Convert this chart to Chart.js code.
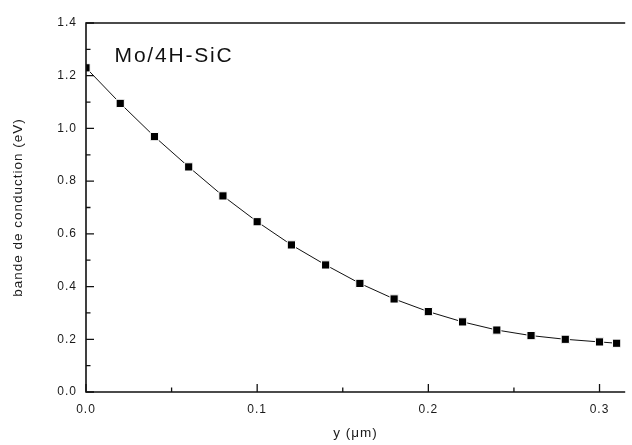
<!DOCTYPE html>
<html>
<head>
<meta charset="utf-8">
<script src="https://cdn.jsdelivr.net/npm/chart.js@4"></script>
<style>
    html, body { margin: 0; padding: 0; background: #fff; }
    #wrap { width: 632px; height: 445px; position: relative; }
</style>
</head>
<body>
<div id="wrap"><canvas id="cb-chart"></canvas></div>
<script>
// position along the contact (um) and conduction band energy (eV)
const yPos = [0, 0.02, 0.04, 0.06, 0.08, 0.10, 0.12, 0.14, 0.16, 0.18, 0.20, 0.22, 0.24, 0.26, 0.28, 0.30, 0.31];
const bandEnergy = [1.230, 1.095, 0.969, 0.854, 0.744, 0.646, 0.558, 0.482, 0.412, 0.353, 0.305, 0.266, 0.235, 0.214, 0.200, 0.190, 0.185];

const xMajor = [0, 0.1, 0.2, 0.3];
const xMinor = [0.05, 0.15, 0.25];
const yMajor = [0, 0.2, 0.4, 0.6, 0.8, 1.0, 1.2, 1.4];
const yMinor = [0.1, 0.3, 0.5, 0.7, 0.9, 1.1, 1.3];

const sampleLabel = "Mo/4H-SiC";
const FONT = "'Liberation Sans', Arial, sans-serif";

// axes frame + inward ticks, drawn from the scales
const framePlugin = {
    id: "frame",
    beforeDraw: function (chart) {
        chart.ctx.letterSpacing = "1px";
    },
    afterDraw: function (chart) {
        let ctx = chart.ctx;
        let a = chart.chartArea;
        let sx = chart.scales.x, sy = chart.scales.y;
        ctx.save();
        ctx.strokeStyle = "#111";
        ctx.lineWidth = 1.6;
        ctx.beginPath();
        ctx.moveTo(a.right, a.top);
        ctx.lineTo(a.left, a.top);
        ctx.lineTo(a.left, a.bottom);
        ctx.lineTo(a.right, a.bottom);
        ctx.stroke();

        ctx.lineWidth = 1.3;
        ctx.beginPath();
        yMajor.forEach(v => { let p = sy.getPixelForValue(v); ctx.moveTo(a.left, p); ctx.lineTo(a.left + 8, p); });
        yMinor.forEach(v => { let p = sy.getPixelForValue(v); ctx.moveTo(a.left, p); ctx.lineTo(a.left + 4.5, p); });
        xMajor.forEach(v => { let p = sx.getPixelForValue(v); ctx.moveTo(p, a.bottom); ctx.lineTo(p, a.bottom - 8); });
        xMinor.forEach(v => { let p = sx.getPixelForValue(v); ctx.moveTo(p, a.bottom); ctx.lineTo(p, a.bottom - 4.5); });
        ctx.stroke();

        // sample name inside the plot
        ctx.fillStyle = "#111";
        ctx.font = "21px " + FONT;
        ctx.letterSpacing = "1.8px";
        ctx.textAlign = "left";
        ctx.textBaseline = "alphabetic";
        ctx.fillText(sampleLabel, sx.getPixelForValue(0.0167), sy.getPixelForValue(1.252));
        ctx.restore();
    }
};

new Chart(document.getElementById("cb-chart"), {
    type: "scatter",
    data: {
        datasets: [{
            data: yPos.map((x, i) => ({ x: x, y: bandEnergy[i] })),
            showLine: true,
            borderColor: "#111",
            borderWidth: 1,
            tension: 0,
            pointStyle: "rect",
            pointRadius: 5.8,
            pointBackgroundColor: "#000",
            pointBorderColor: "#fff",
            pointBorderWidth: 1
        }]
    },
    options: {
        responsive: true,
        maintainAspectRatio: false,
        animation: false,
        layout: { padding: { top: 23, left: 0, right: 0, bottom: 0 } },
        plugins: {
            legend: { display: false },
            tooltip: { enabled: false }
        },
        scales: {
            x: {
                type: "linear",
                min: 0,
                max: 0.315,
                afterFit: s => { s.height = 53; },
                afterBuildTicks: s => { s.ticks = xMajor.map(v => ({ value: v })); },
                grid: { display: false, drawTicks: false },
                border: { display: false },
                ticks: {
                    padding: 10,
                    color: "#1a1a1a",
                    font: { family: FONT, size: 12 },
                    callback: v => v.toFixed(1)
                },
                title: {
                    display: true,
                    text: "y (\u03bcm)",
                    color: "#1a1a1a",
                    font: { family: FONT, size: 13.5 },
                    padding: { top: 0, bottom: 4 }
                }
            },
            y: {
                type: "linear",
                min: 0,
                max: 1.4,
                afterFit: s => { s.width = 86; },
                afterBuildTicks: s => { s.ticks = yMajor.map(v => ({ value: v })); },
                grid: { display: false, drawTicks: false },
                border: { display: false },
                ticks: {
                    padding: 9,
                    color: "#1a1a1a",
                    font: { family: FONT, size: 12 },
                    callback: v => v.toFixed(1)
                },
                title: {
                    display: true,
                    text: "bande de conduction (eV)",
                    color: "#1a1a1a",
                    font: { family: FONT, size: 13.5 },
                    padding: { top: 10, bottom: 0 }
                }
            }
        }
    },
    plugins: [framePlugin]
});
</script>
</body>
</html>
